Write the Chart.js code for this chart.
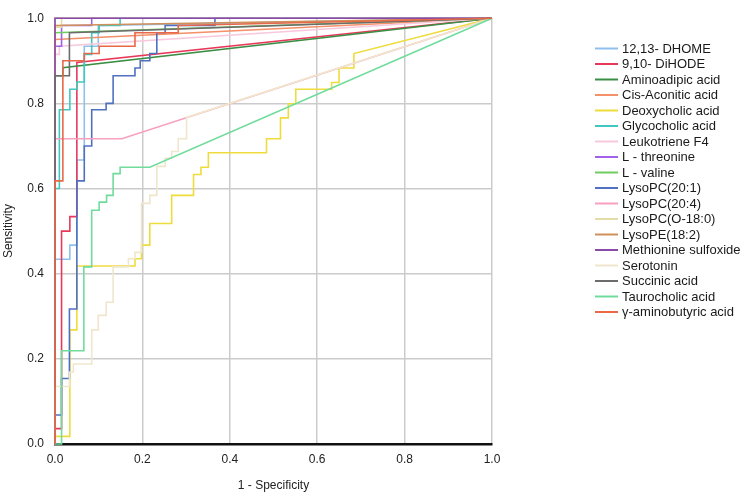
<!DOCTYPE html>
<html>
<head>
<meta charset="utf-8">
<script src="https://cdn.jsdelivr.net/npm/chart.js@4.4.1/dist/chart.umd.min.js"></script>
<style>
  html, body { margin: 0; padding: 0; background: #ffffff; }
  #wrap { position: relative; width: 749px; height: 495px; }
</style>
</head>
<body>
<div id="wrap"><canvas id="c" width="749" height="495"></canvas></div>
<script>
// ---- Series names (legend order) ----
const seriesNames = ["12,13- DHOME", "9,10- DiHODE", "Aminoadipic acid", "Cis-Aconitic acid",
  "Deoxycholic acid", "Glycocholic acid", "Leukotriene F4", "L - threonine", "L - valine",
  "LysoPC(20:1)", "LysoPC(20:4)", "LysoPC(O-18:0)", "LysoPE(18:2)", "Methionine sulfoxide",
  "Serotonin", "Succinic acid", "Taurocholic acid", "γ-aminobutyric acid"];

// ---- Tick values ----
const xTicks = [0.0, 0.2, 0.4, 0.6, 0.8, 1.0];
const yTicks = [0.0, 0.2, 0.4, 0.6, 0.8, 1.0];

// ---- ROC curve vertices: 1 - Specificity (x) and Sensitivity (y) ----
const dhomeX = [0, 0, 0.034, 0.034, 0.05, 0.05, 0.067, 0.067, 0.099, 0.099, 1];
const dhomeY = [0, 0.434, 0.434, 0.467, 0.467, 0.667, 0.667, 0.934, 0.934, 0.983, 1];

const dihodeX = [0, 0, 0.015, 0.015, 0.034, 0.034, 0.05, 0.05, 1];
const dihodeY = [0, 0.036, 0.036, 0.5, 0.5, 0.534, 0.534, 0.896, 1];

const aminoadipicX = [0, 0, 0.018, 0.018, 1];
const aminoadipicY = [0, 0.865, 0.865, 0.884, 1];

const cisAconiticX = [0, 0, 1];
const cisAconiticY = [0, 0.95, 1];

const deoxycholicX = [0, 0, 0.034, 0.034, 0.05, 0.05, 0.183, 0.183, 0.198, 0.198, 0.217, 0.217, 0.267, 0.267,
  0.317, 0.317, 0.334, 0.334, 0.351, 0.351, 0.484, 0.484, 0.516, 0.516, 0.534, 0.534, 0.551, 0.551,
  0.633, 0.633, 0.65, 0.65, 0.684, 0.684, 1];
const deoxycholicY = [0, 0.018, 0.018, 0.268, 0.268, 0.418, 0.418, 0.435, 0.435, 0.467, 0.467, 0.518, 0.518, 0.584,
  0.584, 0.633, 0.633, 0.65, 0.65, 0.684, 0.684, 0.717, 0.717, 0.766, 0.766, 0.799, 0.799, 0.833,
  0.833, 0.849, 0.849, 0.883, 0.883, 0.917, 1];

const glycocholicX = [0, 0, 0.01, 0.01, 0.034, 0.034, 0.05, 0.05, 0.067, 0.067, 0.084, 0.084, 0.101, 0.101, 0.149, 0.149, 1];
const glycocholicY = [0, 0.6, 0.6, 0.785, 0.785, 0.833, 0.833, 0.85, 0.85, 0.915, 0.915, 0.966, 0.966, 0.983, 0.983, 1, 1];

const leukotrieneX = [0, 0, 0.01, 0.01, 1];
const leukotrieneY = [0, 0.915, 0.915, 0.934, 1];

const threonineX = [0, 0, 0.015, 0.015, 0.084, 0.084, 1];
const threonineY = [0, 0.934, 0.934, 0.983, 0.983, 1, 1];

const valineX = [0, 0, 1];
const valineY = [0, 0.966, 1];

const lysoPC201X = [0, 0, 0.015, 0.015, 0.033, 0.033, 0.05, 0.05, 0.067, 0.067, 0.084, 0.084, 0.117, 0.117,
  0.133, 0.133, 0.183, 0.183, 0.195, 0.195, 0.217, 0.217, 0.233, 0.233, 0.252, 0.252, 0.366, 0.366, 1];
const lysoPC201Y = [0, 0.068, 0.068, 0.154, 0.154, 0.317, 0.317, 0.618, 0.618, 0.70, 0.70, 0.785, 0.785, 0.80,
  0.80, 0.865, 0.865, 0.883, 0.883, 0.90, 0.90, 0.917, 0.917, 0.966, 0.966, 0.983, 0.983, 1, 1];

const lysoPC204X = [0, 0, 0.153, 1];
const lysoPC204Y = [0, 0.717, 0.717, 1];

const lysoPCO180X = [0, 0, 0.015, 0.015, 1];
const lysoPCO180Y = [0, 0.979, 0.979, 1, 1];

const lysoPE182X = [0, 0, 1];
const lysoPE182Y = [0, 0.983, 1];

const methionineX = [0, 0, 1];
const methionineY = [0, 1, 1];

const serotoninX = [0, 0, 0.033, 0.033, 0.042, 0.042, 0.084, 0.084, 0.099, 0.099, 0.117, 0.117, 0.133, 0.133,
  0.168, 0.168, 0.183, 0.183, 0.198, 0.198, 0.217, 0.217, 0.233, 0.233, 0.252, 0.252, 0.267, 0.267,
  0.282, 0.282, 0.301, 0.301, 1];
const serotoninY = [0, 0.135, 0.135, 0.169, 0.169, 0.188, 0.188, 0.268, 0.268, 0.302, 0.302, 0.333, 0.333, 0.416,
  0.416, 0.435, 0.435, 0.45, 0.45, 0.565, 0.565, 0.584, 0.584, 0.652, 0.652, 0.671, 0.671, 0.687,
  0.687, 0.717, 0.717, 0.767, 1];

const succinicX = [0, 0, 0.033, 0.033, 1];
const succinicY = [0, 0.865, 0.865, 0.966, 1];

const taurocholicX = [0, 0.015, 0.015, 0.066, 0.066, 0.084, 0.084, 0.101, 0.101, 0.118, 0.118, 0.133, 0.133, 0.149, 0.149, 0.217, 1];
const taurocholicY = [0, 0, 0.219, 0.219, 0.416, 0.416, 0.549, 0.549, 0.568, 0.568, 0.584, 0.584, 0.635, 0.635, 0.65, 0.65, 1];

const gabaX = [0, 0, 0.018, 0.018, 0.067, 0.067, 0.101, 0.101, 0.183, 0.183, 0.282, 0.282, 1];
const gabaY = [0, 0.618, 0.618, 0.9, 0.9, 0.917, 0.917, 0.934, 0.934, 0.966, 0.966, 0.983, 1];

const seriesX = [dhomeX, dihodeX, aminoadipicX, cisAconiticX, deoxycholicX, glycocholicX, leukotrieneX,
  threonineX, valineX, lysoPC201X, lysoPC204X, lysoPCO180X, lysoPE182X, methionineX, serotoninX,
  succinicX, taurocholicX, gabaX];
const seriesY = [dhomeY, dihodeY, aminoadipicY, cisAconiticY, deoxycholicY, glycocholicY, leukotrieneY,
  threonineY, valineY, lysoPC201Y, lysoPC204Y, lysoPCO180Y, lysoPE182Y, methionineY, serotoninY,
  succinicY, taurocholicY, gabaY];

// ---- Styles ----
const colors = ["#8ec0ee", "#e8385a", "#3a8f45", "#f4906a", "#eedc3c", "#40c8c0", "#f8c8dc", "#a060e8",
  "#70cc60", "#5070c0", "#f8a0c0", "#e4dca8", "#d0905a", "#8a4aa8", "#f0e6cc", "#6c6c6c", "#70dc9c", "#e86848"];

const FONT = "'Liberation Sans', Arial, sans-serif";
const N = seriesNames.length;

const datasets = seriesNames.map((name, i) => ({
  label: name,
  data: seriesX[i].map((x, k) => ({ x: x, y: seriesY[i][k] })),
  borderColor: colors[i],
  backgroundColor: colors[i],
  borderWidth: 1.6,
  pointRadius: 0,
  showLine: true,
  fill: false,
  tension: 0,
  clip: 4,
  order: N - 1 - i
}));

const legendPlugin = {
  id: 'sideLegend',
  afterDraw(chart) {
    const ctx = chart.ctx;
    ctx.save();
    ctx.font = "13px " + FONT;
    ctx.textBaseline = 'middle';
    ctx.textAlign = 'left';
    seriesNames.forEach((name, i) => {
      const y = 48.5 + i * 15.5;
      ctx.strokeStyle = colors[i];
      ctx.lineWidth = 2;
      ctx.beginPath();
      ctx.moveTo(595, y);
      ctx.lineTo(618, y);
      ctx.stroke();
      ctx.fillStyle = '#1a1a1a';
      ctx.fillText(name, 622, y + 0.5);
    });
    ctx.restore();
  }
};

new Chart(document.getElementById('c'), {
  type: 'scatter',
  data: { datasets: datasets },
  plugins: [legendPlugin],
  options: {
    responsive: false,
    animation: false,
    devicePixelRatio: 1,
    layout: { padding: { left: 0, right: 257, top: 6, bottom: 0 } },
    plugins: { legend: { display: false }, tooltip: { enabled: false } },
    scales: {
      x: {
        type: 'linear', min: 0, max: 1,
        afterFit: (s) => { s.height = 51; },
        afterBuildTicks: (s) => { s.ticks = xTicks.map(v => ({ value: v })); },
        grid: { color: '#cbcbcb', lineWidth: 1.5, drawTicks: false },
        border: { color: '#111111', width: 2.5 },
        ticks: { padding: 8, color: '#222', font: { family: FONT, size: 12 }, callback: (v) => Number(v).toFixed(1), maxRotation: 0 },
        title: { display: true, text: '1 - Specificity', color: '#222', font: { family: FONT, size: 12 }, padding: { top: 0, bottom: 2 } }
      },
      y: {
        type: 'linear', min: 0, max: 1,
        afterFit: (s) => { s.width = 55; },
        afterBuildTicks: (s) => { s.ticks = yTicks.map(v => ({ value: v })); },
        grid: { color: '#cbcbcb', lineWidth: 1.5, drawTicks: false },
        border: { color: '#cbcbcb', width: 1.5 },
        ticks: { padding: 11, color: '#222', font: { family: FONT, size: 12 }, callback: (v) => Number(v).toFixed(1) },
        title: { display: true, text: 'Sensitivity', color: '#222', font: { family: FONT, size: 12 }, padding: { top: 1, bottom: 0 } }
      }
    }
  }
});
</script>
</body>
</html>
